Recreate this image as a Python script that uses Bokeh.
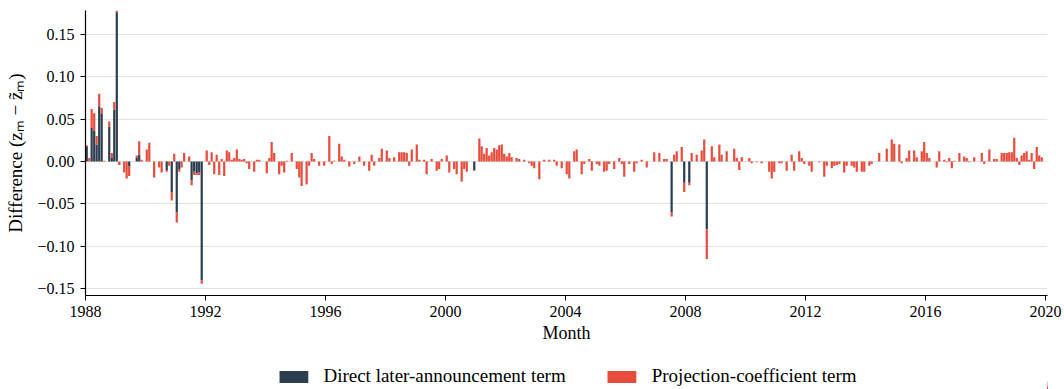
import pandas as pd
from bokeh.plotting import figure
from bokeh.layouts import column
from bokeh.models import (ColumnDataSource, Legend, LegendItem, FixedTicker,
                          CustomJSTickFormatter, DatetimeTickFormatter, Range1d)
from bokeh.embed import file_html
from bokeh.resources import INLINE

# Monthly sample, Jan 1988 - Dec 2019
first_month = "1988-01-01"
last_month = "2019-12-01"

# Projection-coefficient term, one row of twelve months per year
projection_rows = [
    [0.001, 0.004, 0.022, 0.021, 0.010, 0.015, 0.006, 0.001, 0.0, 0.006, 0.006, 0.009],     # 1988
    [0.004, -0.004, 0.0, -0.013, -0.020, -0.011, 0.0, 0.0, 0.003, 0.016, 0.002, 0.0],       # 1989
    [0.014, 0.022, 0.0, -0.019, 0.0, -0.007, -0.013, 0.0, -0.002, -0.005, -0.010, 0.009],   # 1990
    [-0.012, -0.003, -0.007, 0.010, 0.0, 0.006, -0.006, -0.004, -0.002, -0.003, -0.004, 0.0],  # 1991
    [0.013, -0.004, 0.011, -0.015, 0.008, -0.016, 0.003, -0.017, 0.013, 0.011, 0.002, 0.004],  # 1992
    [0.014, 0.003, 0.002, 0.003, -0.002, -0.009, 0.0, -0.012, 0.002, 0.002, 0.0, 0.0],      # 1993
    [-0.014, 0.004, 0.023, 0.010, 0.0, -0.015, -0.005, -0.013, 0.001, 0.0, 0.010, 0.0],     # 1994
    [-0.009, -0.019, -0.029, 0.0, -0.027, -0.005, 0.010, 0.003, 0.0, -0.005, 0.0, -0.005],  # 1995
    [0.0, 0.030, -0.003, 0.001, 0.0, 0.021, 0.006, 0.002, 0.0, -0.006, 0.0, -0.003],        # 1996
    [0.0, 0.006, 0.0, -0.005, 0.0, -0.011, 0.008, -0.005, 0.0, 0.004, 0.015, 0.0],          # 1997
    [0.013, 0.004, 0.0, 0.005, 0.0, 0.011, 0.011, 0.011, 0.010, -0.005, 0.014, 0.0],        # 1998
    [0.020, 0.002, 0.0, 0.002, -0.015, 0.0, 0.003, 0.0, -0.011, -0.009, 0.003, 0.0],        # 1999
    [0.007, -0.013, 0.0, -0.009, -0.015, 0.0, -0.024, -0.009, -0.012, 0.0, 0.0, -0.001],    # 2000
    [0.0, 0.027, 0.018, 0.009, 0.016, 0.007, 0.011, 0.016, 0.014, 0.019, 0.020, 0.009],     # 2001
    [0.006, 0.010, 0.005, 0.0, 0.004, 0.003, 0.0, 0.002, 0.0, -0.002, -0.005, -0.008],      # 2002
    [0.0, -0.021, 0.0, 0.002, 0.0, 0.002, 0.0, 0.002, -0.005, 0.0, -0.008, 0.0],            # 2003
    [-0.015, -0.020, 0.0, 0.012, 0.014, 0.0, -0.015, -0.003, 0.0, 0.003, -0.011, 0.0],      # 2004
    [-0.003, -0.005, 0.0, -0.012, -0.011, -0.003, 0.0, -0.009, 0.0, 0.004, -0.003, -0.018], # 2005
    [0.0, -0.003, 0.0, -0.012, -0.002, 0.0, 0.002, 0.0, -0.007, 0.0, 0.0, 0.011],           # 2006
    [0.0, 0.010, 0.0, 0.003, 0.003, 0.0, -0.005, 0.008, 0.012, 0.0, 0.017, -0.011],         # 2007
    [0.0, -0.003, 0.010, 0.0, 0.008, 0.0, 0.013, 0.026, -0.035, 0.0, 0.018, 0.005],         # 2008
    [0.0, 0.020, 0.008, 0.0, 0.012, 0.0, 0.0, 0.015, 0.004, -0.010, 0.005, 0.0],            # 2009
    [0.0, 0.004, -0.002, 0.0, -0.001, 0.0, -0.002, 0.0, 0.0, -0.012, -0.020, -0.012],       # 2010
    [0.0, -0.002, -0.002, 0.0, -0.011, 0.0, 0.008, -0.011, 0.0, 0.012, 0.004, -0.003],      # 2011
    [0.0, -0.005, -0.012, 0.0, 0.0, -0.001, 0.0, -0.018, -0.005, 0.0, -0.008, -0.005],      # 2012
    [-0.004, -0.003, 0.0, -0.013, -0.005, 0.0, -0.005, -0.007, -0.012, 0.0, -0.012, -0.012],  # 2013
    [0.0, -0.005, -0.003, 0.0, 0.0, 0.010, 0.0, 0.0, 0.015, 0.0, 0.026, 0.021],             # 2014
    [0.0, 0.020, -0.002, 0.0, 0.004, 0.013, 0.0, 0.013, 0.005, 0.0, 0.012, 0.023],          # 2015
    [0.010, 0.004, 0.0, 0.0, -0.007, 0.012, 0.0, 0.002, -0.001, 0.004, -0.008, 0.001],      # 2016
    [0.0, 0.010, 0.0, 0.006, 0.004, -0.001, 0.0, 0.005, 0.0, 0.0, 0.010, -0.003],           # 2017
    [0.0, 0.014, 0.0, 0.003, 0.003, 0.0, 0.010, 0.010, 0.010, 0.011, 0.011, 0.028],         # 2018
    [0.004, -0.004, 0.007, 0.010, 0.012, 0.002, 0.010, -0.009, 0.017, 0.007, 0.005, 0.0],   # 2019
]

# Direct later-announcement term: non-zero months only
direct_months = [
    "1988-01", "1988-03", "1988-04", "1988-05", "1988-06", "1988-07", "1988-10",
    "1988-11", "1988-12", "1989-01", "1989-06", "1989-09", "1989-10", "1990-09",
    "1990-11", "1991-01", "1991-02", "1991-07", "1991-08", "1991-09", "1991-10",
    "1991-11", "2000-12", "2007-07", "2007-12", "2008-02", "2008-09",
]
direct_values = [
    0.018, 0.040, 0.036, 0.020, 0.065, 0.057, 0.041,
    0.004, 0.061, 0.176, -0.006, 0.004, 0.008, -0.010,
    -0.036, -0.060, -0.009, -0.022, -0.012, -0.014, -0.013,
    -0.140, -0.010, -0.060, -0.025, -0.025, -0.080,
]

year_ticks = [1988, 1992, 1996, 2000, 2004, 2008, 2012, 2016, 2020]
y_ticks = [-0.15, -0.10, -0.05, 0.0, 0.05, 0.10, 0.15]

DARK = "#2c3e50"
RED = "#e74c3c"
FONT = "Liberation Serif"
WIDTH = 1064
CHART_H = 345
LEGEND_H = 44

# ---- assemble the monthly table ----
months = pd.date_range(first_month, last_month, freq="MS")
projection = [v for row in projection_rows for v in row]
direct_lookup = dict(zip(direct_months, direct_values))
direct = [direct_lookup.get(m.strftime("%Y-%m"), 0.0) for m in months]
total = [d + q for d, q in zip(direct, projection)]
centers = months + pd.Timedelta(days=15)

source = ColumnDataSource(dict(x=centers, direct=direct, total=total))


def ms(ts):
    return pd.Timestamp(ts).value // 10**6


bar_width = 27 * 24 * 3600 * 1000

p = figure(width=WIDTH, height=CHART_H, x_axis_type="datetime",
           x_range=Range1d(ms("1988-01-01"), ms("2020-01-25")),
           y_range=Range1d(-0.158, 0.178),
           output_backend="svg", toolbar_location=None)
p.min_border_left = 85
p.min_border_right = 17
p.min_border_top = 10
p.min_border_bottom = 48
p.outline_line_color = None

bar_style = dict(x="x", width=bar_width, source=source, line_color=None)
p.vbar(bottom=0, top="direct", fill_color=DARK, **bar_style)
p.vbar(bottom="direct", top="total", fill_color=RED, **bar_style)

# axes
p.xaxis.ticker = FixedTicker(ticks=[ms(f"{y}-01-01") for y in year_ticks])
p.xaxis.formatter = DatetimeTickFormatter(years="%Y", months="%Y", days="%Y",
                                          hours="%Y", minutes="%Y", seconds="%Y",
                                          milliseconds="%Y")
p.yaxis.ticker = FixedTicker(ticks=y_ticks)
p.yaxis.formatter = CustomJSTickFormatter(code="return tick.toFixed(2).replace('-', '\u2212');")

for ax in (p.xaxis, p.yaxis):
    ax.minor_tick_line_color = None
    ax.major_tick_out = 5
    ax.major_tick_in = 0
    ax.axis_line_color = "black"
    ax.axis_line_width = 1.2
    ax.major_tick_line_color = "black"
    ax.major_tick_line_width = 1.0
    ax.major_label_text_font = FONT
    ax.major_label_text_font_size = "16px"
    ax.major_label_text_color = "black"
    ax.axis_label_text_font = FONT
    ax.axis_label_text_font_size = "18px"
    ax.axis_label_text_font_style = "normal"
    ax.axis_label_text_color = "black"

p.xaxis.axis_label = "Month"
p.xaxis.major_label_standoff = 5
p.xaxis.axis_label_standoff = 3
p.yaxis.axis_label = "Difference (z\u2098 \u2212 z\u0303\u2098)"
p.yaxis.axis_label_text_font_size = "19px"
p.yaxis.major_label_standoff = 6
p.yaxis.axis_label_standoff = 8

p.xgrid.grid_line_color = None
p.ygrid.ticker = FixedTicker(ticks=y_ticks)
p.ygrid.grid_line_color = "#e3e3e3"
p.ygrid.grid_line_width = 1.2

# ---- legend strip under the chart ----
# The swatch renderers share the bar data; their x range sits far away
# from the dates, so only their legend swatches appear in this strip.
leg = figure(width=WIDTH, height=LEGEND_H, output_backend="svg",
             toolbar_location=None, x_range=Range1d(0, 1), y_range=Range1d(0, 1))
leg.axis.visible = False
leg.grid.visible = False
leg.outline_line_color = None
leg.min_border_left = 85
leg.min_border_right = 17
leg.min_border_top = 0
leg.min_border_bottom = 0
sw_direct = leg.vbar(bottom=0, top="direct", fill_color=DARK, **bar_style)
sw_proj = leg.vbar(bottom="direct", top="total", fill_color=RED, **bar_style)

legend = Legend(items=[
    LegendItem(label="Direct later-announcement term", renderers=[sw_direct]),
    LegendItem(label="Projection-coefficient term", renderers=[sw_proj]),
], orientation="horizontal", location="bottom_center")
legend.glyph_width = 36
legend.glyph_height = 15
legend.label_standoff = 12
legend.spacing = 38
legend.padding = 0
legend.margin = 2
legend.border_line_color = None
legend.background_fill_alpha = 0
legend.label_text_font = FONT
legend.label_text_font_size = "19px"
legend.label_text_color = "black"
leg.add_layout(legend, "center")

layout = column(p, leg, spacing=0)
open("out.html", "w").write(file_html(layout, INLINE))
